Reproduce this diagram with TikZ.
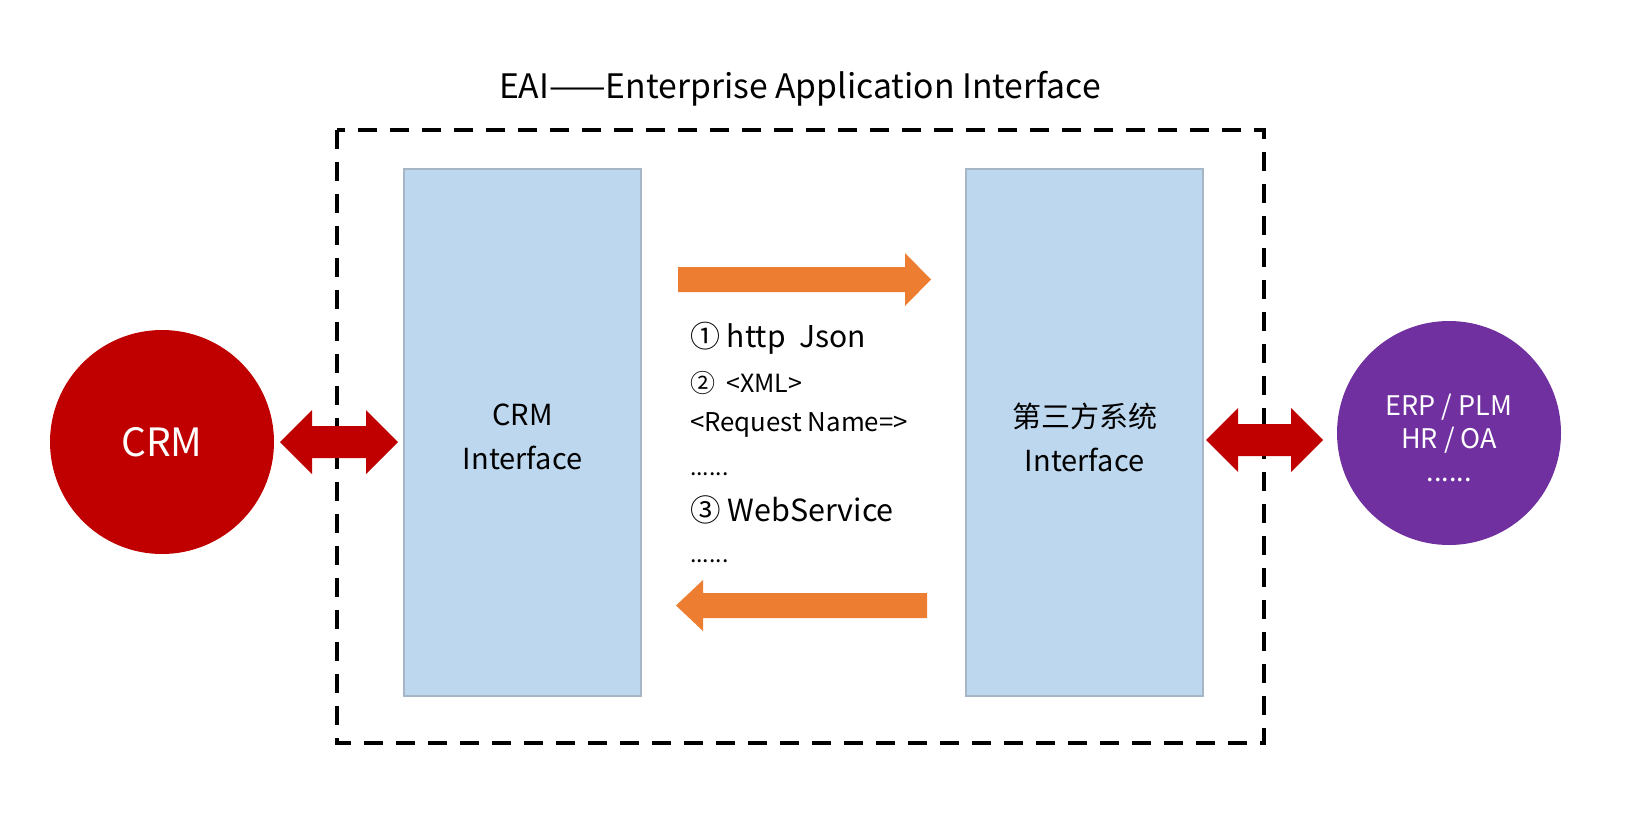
\documentclass[tikz,border=0pt]{standalone}
\usepackage{fontspec}
\setmainfont{Noto Sans CJK SC}
\definecolor{crmred}{HTML}{C00000}
\definecolor{eaipurple}{HTML}{7030A0}
\definecolor{boxblue}{HTML}{BDD7EE}
\definecolor{boxedge}{HTML}{A6B6C6}
\definecolor{arrorange}{HTML}{ED7D31}
\begin{document}
\begin{tikzpicture}[x=1pt,y=-1pt,
  ifbox/.style={draw=boxedge,line width=2pt,fill=boxblue},
  sysnode/.style={circle,inner sep=0pt,minimum size=224pt,text=white,align=center},
  frame/.style={line width=3.5pt,dash pattern=on 19pt off 13pt},
  redarrow/.style={fill=crmred},
  orangearrow/.style={fill=arrorange},
  midtext/.style={anchor=base west,inner sep=0pt}]
\useasboundingbox (0,0) rectangle (1631,817);
% title
\node[font={\fontsize{33.7}{40}\selectfont}] (title) at (800,89) {EAI——Enterprise Application Interface};
% dashed frame
\draw[frame] (337,130) rectangle (1264,743);
% interface boxes
\draw[ifbox] (404,169) rectangle (641,696);
\draw[ifbox] (966,169) rectangle (1203,696);
\node[align=center,font={\fontsize{29}{44}\selectfont}] (crmif) at (522.5,437) {CRM\\Interface};
\node[align=center,font={\fontsize{29}{44}\selectfont}] (thirdif) at (1084.5,437) {第三方系统\\Interface};
% systems
\node[sysnode,fill=crmred,font={\fontsize{39}{44}\selectfont}] (crm) at (162,442) {CRM};
\node[sysnode,fill=eaipurple] (erp) at (1449,433) {};
\node[text=white,align=center,font={\fontsize{27}{33}\selectfont}] (erptext) at ([yshift=-5pt]erp.center) {ERP / PLM\\HR / OA\\......};
% red double arrows
\fill[redarrow] (280,442) -- (312,410) -- (312,426) -- (366,426) -- (366,410) -- (398,442)
  -- (366,474) -- (366,458) -- (312,458) -- (312,474) -- cycle;
\fill[redarrow] (1206,440) -- (1238,408) -- (1238,424) -- (1291,424) -- (1291,408) -- (1323,440)
  -- (1291,472) -- (1291,456) -- (1238,456) -- (1238,472) -- cycle;
% orange arrows
\fill[orangearrow] (678,267) -- (905,267) -- (905,253) -- (931,279.5) -- (905,306) -- (905,292) -- (678,292) -- cycle;
\fill[orangearrow] (927,593) -- (703,593) -- (703,580) -- (676,605.5) -- (703,631) -- (703,618) -- (927,618) -- cycle;
% protocol text
\node[midtext,font={\fontsize{30}{34}\selectfont}] (l1) at (690,347) {① http\ \ Json};
\node[midtext,font={\fontsize{25}{30}\selectfont}] (l2) at (690,392) {②\ \ <XML>};
\node[midtext,font={\fontsize{25.8}{30}\selectfont}] (l3) at (690,431) {<Request Name=>};
\node[midtext,font={\fontsize{23}{30}\selectfont}] (l4) at (690,475) {......};
\node[midtext,font={\fontsize{30.5}{34}\selectfont}] (l5) at (690,521) {③ WebService};
\node[midtext,font={\fontsize{23}{30}\selectfont}] (l6) at (690,562) {......};
\end{tikzpicture}
\end{document}
